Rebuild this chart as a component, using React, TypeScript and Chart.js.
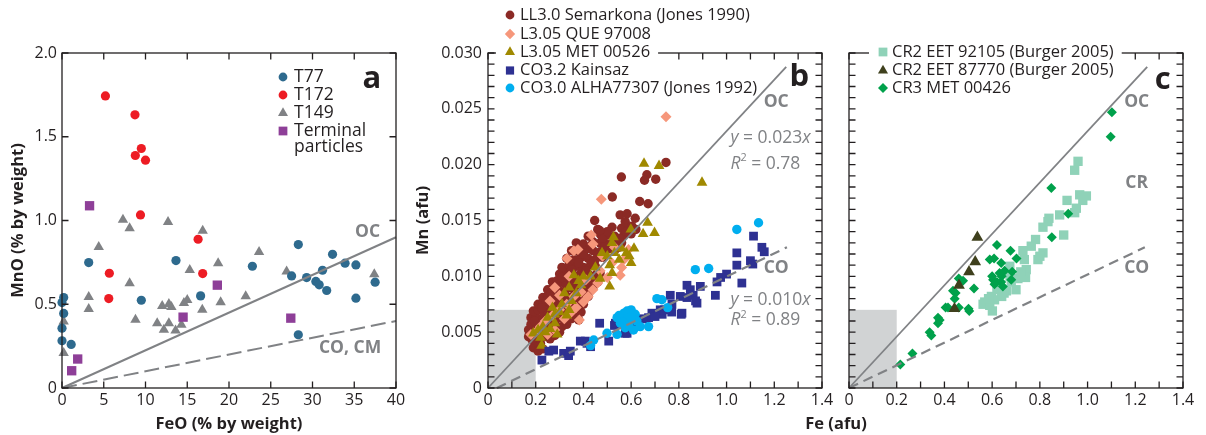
import React, { useEffect, useRef } from 'react';
import { Chart, registerables } from 'chart.js';

Chart.register(...registerables);

const FONT = '"Open Sans", "DejaVu Sans", sans-serif';
const TXT = '#231f20';
const GRAY = '#808285';
const SHADE = '#d1d3d4';

type Pt = [number, number];

// ---------------- Panel a : FeO vs MnO (% by weight) ----------------
const aT77: Pt[] = [[0.2,0.54],[0,0.51],[0.2,0.445],[0,0.357],[0,0.282],[1.1,0.26],[3.2,0.749],[9.5,0.524],[13.65,0.761],[16.6,0.55],[22.8,0.727],[27.5,0.669],[28.3,0.856],[28.3,0.318],[29.3,0.659],[30.4,0.636],[30.8,0.616],[31.2,0.703],[31.7,0.582],[32.4,0.798],[33.9,0.745],[35.2,0.735],[35.2,0.536],[37.5,0.632]];
const aT172: Pt[] = [[5.2,1.744],[8.74,1.631],[8.78,1.388],[9.5,1.43],[10.0,1.36],[9.4,1.033],[16.3,0.888],[5.67,0.685],[5.6,0.534],[16.85,0.683]];
const aT149: Pt[] = [[0.2,0.209],[0.2,0.397],[3.2,0.544],[3.2,0.471],[4.4,0.842],[7.3,1.005],[8.1,0.953],[8.1,0.626],[8.8,0.407],[11.4,0.387],[12.0,0.49],[12.2,0.348],[12.7,0.991],[12.8,0.502],[12.8,0.387],[13.1,0.483],[13.6,0.343],[14.3,0.377],[14.6,0.508],[15.0,0.526],[15.3,0.705],[16.8,0.467],[16.85,0.939],[18.7,0.745],[19.0,0.512],[22.0,0.548],[23.6,0.812],[26.9,0.695],[37.4,0.679]];
const aTerminal: Pt[] = [[3.3,1.088],[1.16,0.103],[1.88,0.173],[14.5,0.423],[18.6,0.614],[27.4,0.417]];
const aOC: Pt[] = [[0,0],[40,0.9]];
const aCOCM: Pt[] = [[0,0],[40,0.4]];
const aXLabels = [0,5,10,15,20,25,30,35,40];
const aYLabels = [0,0.5,1.0,1.5,2.0];

// ---------------- Panel b : Fe vs Mn (afu) ----------------
const bSemarkona: Pt[] = [
  [0.19,0.0036],[0.21,0.0033],[0.23,0.0035],[0.22,0.0040],[0.20,0.0041],
  [0.17,0.0046],[0.19,0.0047],[0.21,0.0045],[0.24,0.0046],[0.26,0.0044],[0.28,0.0047],
  [0.17,0.0052],[0.20,0.0051],[0.23,0.0052],[0.25,0.0050],[0.27,0.0051],[0.30,0.0050],
  [0.18,0.0057],[0.20,0.0058],[0.22,0.0056],[0.25,0.0057],[0.28,0.0056],[0.31,0.0055],[0.33,0.0057],
  [0.18,0.0063],[0.20,0.0064],[0.23,0.0062],[0.26,0.0063],[0.29,0.0062],[0.32,0.0061],[0.35,0.0062],[0.38,0.0061],
  [0.19,0.0069],[0.21,0.0070],[0.24,0.0068],[0.27,0.0070],[0.30,0.0068],[0.33,0.0069],[0.36,0.0067],[0.39,0.0068],
  [0.21,0.0075],[0.23,0.0076],[0.26,0.0074],[0.29,0.0076],[0.32,0.0075],[0.35,0.0074],[0.38,0.0073],[0.40,0.0075],
  [0.23,0.0081],[0.25,0.0082],[0.28,0.0080],[0.31,0.0082],[0.34,0.0081],[0.37,0.0080],[0.40,0.0081],[0.42,0.0082],
  [0.25,0.0088],[0.27,0.0089],[0.30,0.0087],[0.33,0.0089],[0.36,0.0088],[0.39,0.0087],[0.42,0.0088],[0.44,0.0090],
  [0.27,0.0095],[0.29,0.0096],[0.32,0.0094],[0.35,0.0096],[0.38,0.0095],[0.41,0.0094],[0.44,0.0096],[0.46,0.0095],
  [0.30,0.0102],[0.33,0.0103],[0.36,0.0101],[0.39,0.0103],[0.42,0.0102],[0.45,0.0101],[0.47,0.0103],
  [0.31,0.0108],[0.34,0.0110],[0.37,0.0109],[0.40,0.0108],[0.43,0.0110],[0.45,0.0109],
  [0.33,0.0116],[0.36,0.0115],[0.39,0.0117],[0.42,0.0116],[0.45,0.0115],[0.48,0.0117],
  [0.35,0.0123],[0.38,0.0122],[0.41,0.0124],[0.44,0.0123],[0.47,0.0122],[0.50,0.0124],[0.53,0.0123],
  [0.37,0.0130],[0.40,0.0129],[0.44,0.0131],[0.47,0.0130],[0.50,0.0129],[0.53,0.0131],[0.56,0.0130],
  [0.42,0.0136],[0.47,0.0138],[0.50,0.0137],[0.53,0.0136],[0.57,0.0137],[0.60,0.0138],
  [0.46,0.0142],[0.52,0.0144],[0.56,0.0143],[0.59,0.0144],[0.62,0.0142],
  [0.185,0.0043],[0.215,0.0049],[0.245,0.0054],[0.195,0.0060],[0.235,0.0066],[0.275,0.0060],[0.31,0.0065],
  [0.225,0.0072],[0.28,0.0073],[0.34,0.0072],[0.245,0.0078],[0.30,0.0079],[0.36,0.0077],[0.265,0.0085],
  [0.32,0.0085],[0.38,0.0084],[0.29,0.0092],[0.35,0.0092],[0.40,0.0091],[0.31,0.0099],[0.37,0.0098],
  [0.43,0.0099],[0.35,0.0106],[0.41,0.0105],[0.38,0.0112],[0.44,0.0113],[0.40,0.0120],[0.46,0.0119],
  [0.43,0.0127],[0.49,0.0127],[0.55,0.0126],[0.48,0.0134],[0.55,0.0134],[0.58,0.0140],[0.50,0.0140],
  [0.447,0.0150],[0.468,0.0141],[0.521,0.0171],[0.559,0.0189],[0.554,0.0155],[0.583,0.0156],[0.617,0.0152],[0.575,0.0149],
  [0.603,0.0145],[0.636,0.0167],[0.671,0.0165],[0.666,0.0191],[0.656,0.0186],[0.703,0.0187],[0.746,0.0202]
];
const bQue97008: Pt[] = [[0.746,0.0243],[0.475,0.0169],[0.433,0.0137],[0.377,0.0124],[0.331,0.0116],[0.36,0.0123],[0.383,0.0061],[0.554,0.0101],[0.589,0.0124],[0.56,0.0108],[0.57,0.0115],[0.50,0.0099],[0.46,0.0094],[0.44,0.0088],[0.42,0.0082],[0.40,0.0077],[0.37,0.0072],[0.35,0.0068],[0.33,0.0075],[0.30,0.0083],[0.28,0.0090],[0.30,0.0070],[0.27,0.0065],[0.24,0.0060],[0.22,0.0055],[0.20,0.0050],[0.18,0.0048],[0.26,0.0078],[0.32,0.0062],[0.36,0.0082],[0.39,0.0086],[0.47,0.0105],[0.52,0.0112],[0.48,0.0118],[0.41,0.0097],[0.28,0.0052],[0.25,0.0048],[0.34,0.0100],[0.53,0.0126],[0.44,0.0129]];
const bMet00526: Pt[] = [[0.654,0.0201],[0.717,0.0199],[0.897,0.0184],[0.669,0.0148],[0.650,0.0138],[0.698,0.0139],[0.599,0.0142],[0.612,0.0125],[0.592,0.0118],[0.526,0.0135],[0.478,0.0121],[0.51,0.0091],[0.52,0.0103],[0.19,0.0049],[0.22,0.0045],[0.225,0.0038],[0.23,0.0055],[0.25,0.0063],[0.28,0.0058],[0.30,0.0068],[0.27,0.0072],[0.31,0.0075],[0.33,0.0065],[0.34,0.0070],[0.35,0.0078],[0.32,0.0085],[0.34,0.0090],[0.37,0.0085],[0.39,0.0092],[0.40,0.0100],[0.43,0.0100],[0.45,0.0108],[0.47,0.0098],[0.50,0.0118],[0.51,0.0110],[0.52,0.0130],[0.53,0.0121],[0.55,0.0115],[0.56,0.0125],[0.58,0.0121],[0.60,0.0112],[0.24,0.0050],[0.26,0.0053],[0.28,0.0066],[0.36,0.0101],[0.38,0.0096],[0.29,0.0048],[0.21,0.0052]];
const bKainsaz: Pt[] = [[0.226,0.0025],[0.255,0.0033],[0.275,0.0034],[0.317,0.0031],[0.338,0.0029],[0.345,0.0033],[0.387,0.0042],[0.408,0.0042],[0.415,0.0040],[0.43,0.0037],[0.468,0.0058],[0.506,0.0042],[0.53,0.0056],[0.534,0.0058],[0.575,0.0049],[0.583,0.0049],[0.603,0.0064],[0.61,0.0059],[0.631,0.0061],[0.673,0.0063],[0.687,0.0067],[0.722,0.0070],[0.73,0.0066],[0.74,0.0070],[0.764,0.0083],[0.771,0.0075],[0.77,0.0068],[0.806,0.0082],[0.813,0.0067],[0.81,0.0066],[0.834,0.0092],[0.848,0.0088],[0.834,0.0081],[0.86,0.0083],[0.876,0.0076],[0.89,0.0091],[0.87,0.0078],[0.953,0.0083],[0.96,0.0095],[0.975,0.0099],[1.00,0.0102],[1.043,0.0121],[1.043,0.0110],[1.064,0.0094],[1.10,0.0114],[1.11,0.0111],[1.113,0.0136],[1.148,0.0126],[1.158,0.0122],[0.65,0.0062],[0.70,0.0064]];
const bAlha77307: Pt[] = [[1.043,0.0142],[1.134,0.0148],[0.869,0.0106],[0.925,0.0107],[0.708,0.0080],[0.729,0.0079],[0.753,0.0072],[0.541,0.0063],[0.562,0.0064],[0.583,0.0069],[0.585,0.0061],[0.617,0.0066],[0.624,0.0060],[0.638,0.0055],[0.673,0.0055],[0.575,0.0054],[0.541,0.0048],[0.499,0.0049],[0.443,0.0043],[0.43,0.0038],[0.555,0.0058],[0.57,0.0067],[0.60,0.0070],[0.59,0.0057],[0.61,0.0052],[0.55,0.0065],[0.60,0.0063],[0.565,0.0059]];
const bOC: Pt[] = [[0,0],[1.25,0.02875]];
const bCO: Pt[] = [[0.037,0],[1.253,0.0126]];

// ---------------- Panel c : Fe vs Mn (afu), CR chondrites ----------------
const cEet92105: Pt[] = [[0.960,0.0203],[0.946,0.0195],[0.967,0.0173],[0.995,0.0172],[0.980,0.0168],[0.914,0.0168],[0.953,0.0161],[0.946,0.0157],[0.883,0.0155],[0.838,0.0152],[0.834,0.0149],[0.813,0.0144],[0.900,0.0137],[0.782,0.0133],[0.764,0.0127],[0.729,0.0123],[0.813,0.0121],[0.800,0.0118],[0.792,0.0115],[0.735,0.0115],[0.743,0.0106],[0.740,0.0099],[0.708,0.0098],[0.674,0.0109],[0.680,0.0095],[0.660,0.0087],[0.700,0.0088],[0.620,0.0088],[0.650,0.0085],[0.597,0.0082],[0.610,0.0079],[0.569,0.0077],[0.562,0.0075],[0.601,0.0069],[0.590,0.0074],[0.640,0.0082],[0.675,0.0100],[0.720,0.0104],[0.630,0.0090],[0.585,0.0080]];
const cEet87770: Pt[] = [[0.538,0.0135],[0.529,0.0113],[0.503,0.0104],[0.461,0.0092],[0.442,0.0071]];
const cMet00426: Pt[] = [[1.102,0.0247],[1.097,0.0225],[0.848,0.0179],[0.919,0.0156],[0.850,0.0135],[0.620,0.0128],[0.677,0.0123],[0.702,0.0116],[0.590,0.0115],[0.608,0.0116],[0.638,0.0112],[0.631,0.0103],[0.604,0.0097],[0.638,0.0095],[0.684,0.0104],[0.68,0.0097],[0.645,0.0091],[0.62,0.0095],[0.64,0.0100],[0.60,0.0100],[0.46,0.0098],[0.478,0.0096],[0.524,0.0089],[0.436,0.0087],[0.447,0.0085],[0.443,0.0080],[0.405,0.0072],[0.415,0.0072],[0.46,0.0072],[0.501,0.0071],[0.504,0.0069],[0.373,0.0063],[0.38,0.0061],[0.373,0.0058],[0.338,0.0050],[0.345,0.0047],[0.266,0.0031],[0.215,0.0021],[0.652,0.0105],[0.61,0.0093]];
const cOC: Pt[] = [[0,0],[1.25,0.02875]];
const cCO: Pt[] = [[0,0],[1.24,0.0126]];

const bcXLabels = [0,0.2,0.4,0.6,0.8,1.0,1.2,1.4];
const bYLabels = [0,0.005,0.010,0.015,0.020,0.025,0.030];
const aXTicks = aXLabels;
const aYTicks = aYLabels;
const bcXTicks = Array.from({ length: 15 }, (_, i) => i / 10);
const bcYTicks = Array.from({ length: 31 }, (_, i) => i / 1000);

// ---------------- helpers ----------------
const toXY = (a: Pt[]) => a.map(([x, y]) => ({ x, y }));

function scatterDs(data: Pt[], style: string, r: number, color: string, order: number) {
  return {
    data: toXY(data), pointStyle: style, pointRadius: r, pointHoverRadius: r,
    backgroundColor: color, borderColor: color, pointBorderWidth: 0, borderWidth: 0,
    showLine: false, order, clip: false,
  };
}
function lineDs(data: Pt[], width: number, dash: number[]) {
  return {
    data: toXY(data), showLine: true, borderColor: GRAY, borderWidth: width, borderDash: dash,
    pointRadius: 0, pointHoverRadius: 0, fill: false, order: 0, clip: false, tension: 0,
  };
}

function drawMarker(ctx: CanvasRenderingContext2D, style: string, x: number, y: number, r: number, color: string) {
  ctx.save();
  ctx.fillStyle = color;
  ctx.beginPath();
  if (style === 'circle') ctx.arc(x, y, r, 0, Math.PI * 2);
  else if (style === 'rect') { const s = r * Math.SQRT1_2; ctx.rect(x - s, y - s, 2 * s, 2 * s); }
  else if (style === 'rectRot') { ctx.moveTo(x - r, y); ctx.lineTo(x, y - r); ctx.lineTo(x + r, y); ctx.lineTo(x, y + r); }
  else if (style === 'triangle') {
    const a = (2 * Math.PI) / 3;
    ctx.moveTo(x, y - r);
    ctx.lineTo(x + Math.sin(a) * r, y - Math.cos(a) * r);
    ctx.lineTo(x + Math.sin(2 * a) * r, y - Math.cos(2 * a) * r);
  }
  ctx.closePath();
  ctx.fill();
  ctx.restore();
}

type Part = { t: string; i?: boolean; sup?: boolean };
type Deco = {
  xTicks: number[]; yTicks: number[];
  shade?: [number, number, number, number];
  legend: { mx: number; tx: number; size: number; rows: { label: string; style?: string; color?: string; r?: number; y: number; mask?: boolean }[] };
  notes: { text: string; x: number; y: number; size: number; bold?: boolean; color: string }[];
  eqs?: { parts: Part[]; x: number; y: number; size: number }[];
  pixelTexts?: { text: string; x: number; y: number; size: number; bold?: boolean }[];
};

function decoPlugin(d: Deco) {
  return {
    id: 'deco',
    beforeDatasetsDraw(chart: any) {
      if (!d.shade) return;
      const { ctx, scales: { x, y } } = chart;
      const [x0, x1, y0, y1] = d.shade;
      const px0 = x.getPixelForValue(x0), px1 = x.getPixelForValue(x1);
      const py0 = y.getPixelForValue(y0), py1 = y.getPixelForValue(y1);
      ctx.save();
      ctx.fillStyle = SHADE;
      ctx.fillRect(px0, py1, px1 - px0, py0 - py1);
      ctx.restore();
    },
    afterDraw(chart: any) {
      const { ctx, chartArea: a, scales: { x, y } } = chart;
      const TL = 6.5;
      ctx.save();
      ctx.strokeStyle = TXT;
      ctx.lineWidth = 1.3;
      ctx.strokeRect(a.left, a.top, a.right - a.left, a.bottom - a.top);
      ctx.beginPath();
      for (const v of d.xTicks) {
        const px = x.getPixelForValue(v);
        ctx.moveTo(px, a.bottom); ctx.lineTo(px, a.bottom - TL);
        ctx.moveTo(px, a.top); ctx.lineTo(px, a.top + TL);
      }
      for (const v of d.yTicks) {
        const py = y.getPixelForValue(v);
        ctx.moveTo(a.left, py); ctx.lineTo(a.left + TL, py);
        ctx.moveTo(a.right, py); ctx.lineTo(a.right - TL, py);
      }
      ctx.stroke();

      // legend
      const L = d.legend;
      ctx.textBaseline = 'middle';
      ctx.textAlign = 'left';
      ctx.font = `${L.size}px ${FONT}`;
      for (const row of L.rows) {
        if (row.mask) {
          const w = ctx.measureText(row.label).width;
          ctx.fillStyle = '#ffffff';
          ctx.fillRect(L.mx - 14, a.top - 8, L.tx + w + 8 - (L.mx - 14), 17);
        }
        if (row.style) drawMarker(ctx, row.style, L.mx, row.y, row.r || 4.5, row.color || TXT);
        ctx.fillStyle = TXT;
        ctx.font = `${L.size}px ${FONT}`;
        ctx.fillText(row.label, L.tx, row.y);
      }

      // notes in data coordinates
      ctx.textAlign = 'center';
      for (const n of d.notes) {
        ctx.font = `${n.bold ? 'bold ' : ''}${n.size}px ${FONT}`;
        ctx.fillStyle = n.color;
        ctx.fillText(n.text, x.getPixelForValue(n.x), y.getPixelForValue(n.y));
      }
      // equations
      ctx.textAlign = 'left';
      for (const e of d.eqs || []) {
        let cx = x.getPixelForValue(e.x);
        const cy = y.getPixelForValue(e.y);
        ctx.fillStyle = GRAY;
        for (const p of e.parts) {
          const s = p.sup ? e.size * 0.62 : e.size;
          ctx.font = `${p.i ? 'italic ' : ''}${s}px ${FONT}`;
          ctx.fillText(p.t, cx, p.sup ? cy - e.size * 0.3 : cy);
          cx += ctx.measureText(p.t).width;
        }
      }
      ctx.textAlign = 'center';
      for (const t of d.pixelTexts || []) {
        ctx.font = `${t.bold ? 'bold ' : ''}${t.size}px ${FONT}`;
        ctx.fillStyle = TXT;
        ctx.fillText(t.text, t.x, t.y);
      }
      ctx.restore();
    },
  };
}

function axis(opts: {
  min: number; max: number; labels: number[]; fmt: (v: number) => string; fit: number; horizontal: boolean;
  title?: string; titlePad?: any; showLabels?: boolean; pad: number;
}) {
  return {
    type: 'linear', min: opts.min, max: opts.max,
    grid: { display: false, drawTicks: false, tickLength: 0 },
    border: { display: false },
    afterBuildTicks: (s: any) => { s.ticks = opts.labels.map((v) => ({ value: v })); },
    afterFit: (s: any) => { if (opts.horizontal) s.height = opts.fit; else s.width = opts.fit; },
    ticks: {
      display: opts.showLabels !== false,
      padding: opts.pad, color: TXT, autoSkip: false, maxRotation: 0, minRotation: 0,
      font: { family: FONT, size: 16 },
      callback: (v: any) => opts.fmt(Number(v)),
    },
    title: opts.title
      ? { display: true, text: opts.title, color: TXT, font: { family: FONT, size: 16.5, weight: 'bold' }, padding: opts.titlePad }
      : { display: false },
  };
}

const baseOptions = (pad: any) => ({
  responsive: false, animation: false, events: [],
  layout: { padding: pad, autoPadding: false },
  plugins: { legend: { display: false }, tooltip: { enabled: false } },
});

const fmt1 = (v: number) => (v === 0 ? '0' : v.toFixed(1));
const fmt3 = (v: number) => (v === 0 ? '0' : v.toFixed(3));
const fmtInt = (v: number) => String(Math.round(v));

const COL = {
  t77: '#2e6a8e', t172: '#ed1c24', t149: '#808285', term: '#8e3f98',
  sem: '#8b2a25', que: '#f6977b', met: '#a08900', kai: '#2e3192', alha: '#00aeef',
  eet92: '#8fd2b8', eet87: '#3f401d', met426: '#00a14b',
};

function makeA() {
  return {
    type: 'scatter',
    data: {
      datasets: [
        lineDs(aOC, 2, []),
        lineDs(aCOCM, 2, [15, 6]),
        scatterDs(aT149, 'triangle', 6, COL.t149, 4),
        scatterDs(aT77, 'circle', 4.6, COL.t77, 3),
        scatterDs(aT172, 'circle', 4.6, COL.t172, 2),
        scatterDs(aTerminal, 'rect', 6.6, COL.term, 1),
      ],
    },
    options: {
      ...baseOptions({ left: 0, top: 53, right: 14, bottom: 0 }),
      scales: {
        x: axis({ min: 0, max: 40, labels: aXLabels, fmt: fmtInt, fit: 47, horizontal: true, title: 'FeO (% by weight)', titlePad: { top: 0, bottom: 1 }, pad: 3 }),
        y: axis({ min: 0, max: 2, labels: aYLabels, fmt: fmt1, fit: 62, horizontal: false, title: 'MnO (% by weight)', titlePad: { top: 8, bottom: 0 }, pad: 5 }),
      },
    },
    plugins: [decoPlugin({
      xTicks: aXTicks, yTicks: aYTicks,
      legend: {
        mx: 283, tx: 294, size: 17.5,
        rows: [
          { label: 'T77', style: 'circle', color: COL.t77, r: 4.4, y: 77 },
          { label: 'T172', style: 'circle', color: COL.t172, r: 4.4, y: 95 },
          { label: 'T149', style: 'triangle', color: COL.t149, r: 5.8, y: 113 },
          { label: 'Terminal', style: 'rect', color: COL.term, r: 6.2, y: 131 },
          { label: 'particles', y: 147.5 },
        ],
      },
      notes: [
        { text: 'a', x: 37.1, y: 1.845, size: 31, bold: true, color: TXT },
        { text: 'OC', x: 36.6, y: 0.93, size: 17.5, bold: true, color: GRAY },
        { text: 'CO, CM', x: 34.5, y: 0.24, size: 17.5, bold: true, color: GRAY },
      ],
    })],
  };
}

function makeB() {
  return {
    type: 'scatter',
    data: {
      datasets: [
        lineDs(bOC, 1.8, []),
        lineDs(bCO, 2.2, [10, 6]),
        scatterDs(bSemarkona, 'circle', 4.7, COL.sem, 5),
        scatterDs(bQue97008, 'rectRot', 5.5, COL.que, 4),
        scatterDs(bMet00526, 'triangle', 6.2, COL.met, 3),
        scatterDs(bKainsaz, 'rect', 6.2, COL.kai, 2),
        scatterDs(bAlha77307, 'circle', 4.7, COL.alha, 1),
      ],
    },
    options: {
      ...baseOptions({ left: 0, top: 53, right: 78, bottom: 0 }),
      scales: {
        x: axis({ min: 0, max: 1.4, labels: bcXLabels, fmt: fmt1, fit: 47, horizontal: true, pad: 3 }),
        y: axis({ min: 0, max: 0.03, labels: bYLabels, fmt: fmt3, fit: 78, horizontal: false, title: 'Mn (afu)', titlePad: { top: 3, bottom: 0 }, pad: 6 }),
      },
    },
    plugins: [decoPlugin({
      xTicks: bcXTicks, yTicks: bcYTicks,
      shade: [0, 0.2, 0, 0.007],
      legend: {
        mx: 100, tx: 110, size: 16.5,
        rows: [
          { label: 'LL3.0 Semarkona (Jones 1990)', style: 'circle', color: COL.sem, r: 4.4, y: 15 },
          { label: 'L3.05 QUE 97008', style: 'rectRot', color: COL.que, r: 5.2, y: 34 },
          { label: 'L3.05 MET 00526', style: 'triangle', color: COL.met, r: 5.8, y: 52, mask: true },
          { label: 'CO3.2 Kainsaz', style: 'rect', color: COL.kai, r: 5.8, y: 70.5 },
          { label: 'CO3.0 ALHA77307 (Jones 1992)', style: 'circle', color: COL.alha, r: 4.4, y: 88 },
        ],
      },
      notes: [
        { text: 'b', x: 1.305, y: 0.0278, size: 31, bold: true, color: TXT },
        { text: 'OC', x: 1.208, y: 0.0256, size: 17.5, bold: true, color: GRAY },
        { text: 'CO', x: 1.208, y: 0.01075, size: 17.5, bold: true, color: GRAY },
      ],
      eqs: [
        { parts: [{ t: 'y', i: true }, { t: ' = 0.023' }, { t: 'x', i: true }], x: 1.016, y: 0.02237, size: 17.5 },
        { parts: [{ t: 'R', i: true }, { t: '2', sup: true }, { t: ' = 0.78' }], x: 1.016, y: 0.0201, size: 17.5 },
        { parts: [{ t: 'y', i: true }, { t: ' = 0.010' }, { t: 'x', i: true }], x: 1.016, y: 0.0079, size: 17.5 },
        { parts: [{ t: 'R', i: true }, { t: '2', sup: true }, { t: ' = 0.89' }], x: 1.016, y: 0.0061, size: 17.5 },
      ],
      pixelTexts: [{ text: 'Fe (afu)', x: 426, y: 424, size: 16.5, bold: true }],
    })],
  };
}

function makeC() {
  return {
    type: 'scatter',
    data: {
      datasets: [
        lineDs(cOC, 1.8, []),
        lineDs(cCO, 2.2, [10, 6]),
        scatterDs(cEet92105, 'rect', 6.6, COL.eet92, 3),
        scatterDs(cMet00426, 'rectRot', 5, COL.met426, 2),
        scatterDs(cEet87770, 'triangle', 6.8, COL.eet87, 1),
      ],
    },
    options: {
      ...baseOptions({ left: 0, top: 53, right: 23, bottom: 0 }),
      scales: {
        x: axis({ min: 0, max: 1.4, labels: bcXLabels, fmt: fmt1, fit: 47, horizontal: true, pad: 3 }),
        y: axis({ min: 0, max: 0.03, labels: bYLabels, fmt: fmt3, fit: 14, horizontal: false, showLabels: false, pad: 0 }),
      },
    },
    plugins: [decoPlugin({
      xTicks: bcXTicks, yTicks: bcYTicks,
      shade: [0, 0.2, 0, 0.007],
      legend: {
        mx: 48, tx: 57, size: 16.5,
        rows: [
          { label: 'CR2 EET 92105 (Burger 2005)', style: 'rect', color: COL.eet92, r: 6.2, y: 52, mask: true },
          { label: 'CR2 EET 87770 (Burger 2005)', style: 'triangle', color: COL.eet87, r: 5.8, y: 70.5 },
          { label: 'CR3 MET 00426', style: 'rectRot', color: COL.met426, r: 5, y: 88 },
        ],
      },
      notes: [
        { text: 'c', x: 1.315, y: 0.0276, size: 31, bold: true, color: TXT },
        { text: 'OC', x: 1.206, y: 0.0256, size: 17.5, bold: true, color: GRAY },
        { text: 'CR', x: 1.206, y: 0.01835, size: 17.5, bold: true, color: GRAY },
        { text: 'CO', x: 1.206, y: 0.01075, size: 17.5, bold: true, color: GRAY },
      ],
    })],
  };
}

function ChartCanvas({ left, width, make }: { left: number; width: number; make: () => any }) {
  const ref = useRef<HTMLCanvasElement>(null);
  useEffect(() => {
    const chart = new Chart(ref.current as HTMLCanvasElement, make());
    return () => chart.destroy();
  }, []);
  return (
    <canvas
      ref={ref}
      width={width}
      height={435}
      style={{ position: 'absolute', left, top: 0, width, height: 435 }}
    />
  );
}

export default function App() {
  return (
    <div style={{ position: 'absolute', left: 0, top: 0, width: 1206, height: 435, background: '#ffffff', overflow: 'hidden' }}>
      <ChartCanvas left={0} width={410} make={makeA} />
      <ChartCanvas left={410} width={490} make={makeB} />
      <ChartCanvas left={835} width={371} make={makeC} />
    </div>
  );
}
